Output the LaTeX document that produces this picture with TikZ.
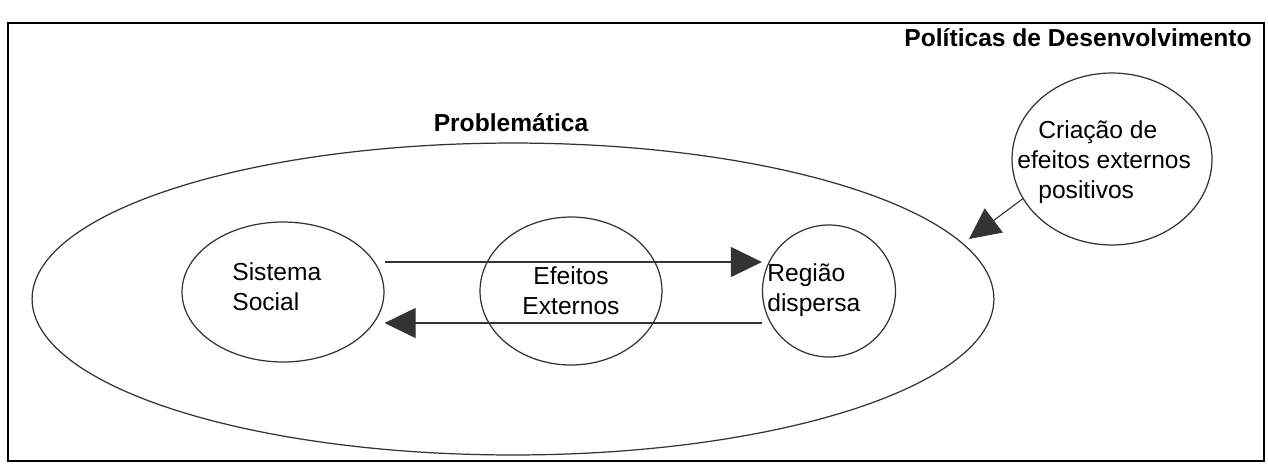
\documentclass[tikz,border=0pt]{standalone}
\usepackage{fontspec}
\setmainfont{Liberation Sans}
\usetikzlibrary{shapes.geometric,arrows.meta}

\begin{document}
\begin{tikzpicture}[x=0.02cm,y=-0.02cm,font=\fontsize{14}{17}\selectfont,
		bubble/.style={ellipse,draw=black!80,line width=0.7pt,inner sep=0pt},
		txt/.style={align=left,inner sep=0pt},
		heading/.style={font=\fontsize{14}{17}\selectfont\bfseries,inner sep=0pt},
		arr/.style={-{Triangle[length=0.62cm,width=0.6cm]},draw=black!80,line width=0.6pt}]
		
		\useasboundingbox (0,0) rectangle (1268,468);
		
		% frame
		\draw[line width=1.1pt] (8,23) rectangle (1264,461);
		\node[heading,anchor=base east] (pol) at (1252,46) {Políticas de Desenvolvimento};
		
		% problematica
		\node[bubble,minimum width=19.24cm,minimum height=6.24cm] (prob) at (513,299) {};
		\node[heading] (probt) at (511,123) {Problemática};
		
		\node[bubble,minimum width=4.04cm,minimum height=2.8cm] (sis) at (283,292) {};
		\node[txt,anchor=west] (sist) at (232,287) {Sistema\\Social};
		
		\node[bubble,minimum width=3.64cm,minimum height=2.96cm,align=center] (efe) at (571,291) {Efeitos\\Externos};
		
		\node[bubble,minimum width=2.66cm,minimum height=2.64cm] (reg) at (829,291) {};
		\node[txt,anchor=west] (regt) at (767,290) {Região\\dispersa};
		
		% politica
		\node[bubble,minimum width=4cm,minimum height=3.44cm] (cri) at (1112,159) {};
		\node[txt,anchor=west] (crit) at (1017,162) {\hspace{0.42cm}Criação de\\efeitos externos\\\hspace{0.42cm}positivos};
		
		\coordinate (a1) at ([yshift=0.6cm]sis.east);
		\coordinate (a2) at ([yshift=-0.62cm]sis.east);
		\coordinate (tip) at (969,239);
		\draw[arr] (a1) -- (a1 -| reg.west);
		\draw[arr] (a2 -| reg.west) -- (a2);
		\draw[arr] (cri.204) -- (tip);
		\end{tikzpicture}
\end{document}
